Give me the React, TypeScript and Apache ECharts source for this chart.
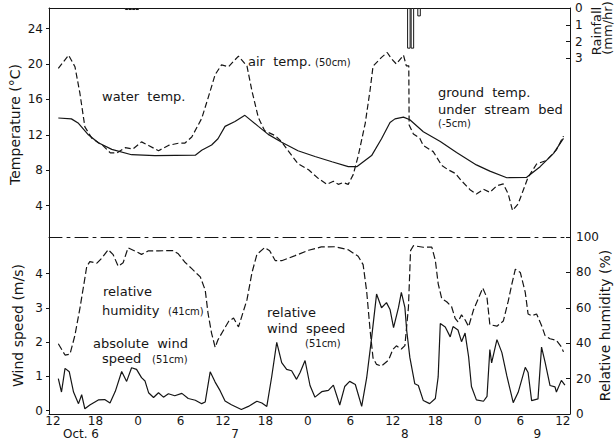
import React, { useEffect, useRef } from "react";
import * as echarts from "echarts";

// hours counted from Oct. 6, 12:00
const waterHours = [0.75, 2.6, 3.6, 5.0, 6.4, 8.3, 11.1, 14.4, 20.1, 21.0, 22.4, 23.3, 24.3, 25.7, 27.1, 29.0, 30.4, 32.3, 34.6, 37.0, 39.4, 41.7, 42.9, 45.0, 46.4, 47.6, 48.3, 49.5, 50.4, 52.3, 54.7, 57.0, 59.8, 61.7, 64.1, 66.9, 68.8, 70.7, 72.1];
const waterTemp = [13.9, 13.8, 13.3, 12.0, 11.1, 10.35, 9.75, 9.65, 9.7, 10.25, 10.85, 11.55, 12.95, 13.5, 14.2, 12.95, 12.05, 11.15, 10.2, 9.55, 8.95, 8.4, 8.4, 9.65, 11.55, 13.4, 13.8, 14.0, 13.7, 12.35, 11.25, 10.0, 8.6, 7.9, 7.15, 7.2, 8.4, 9.9, 11.6];

const airHours = [0.75, 2.2, 3.1, 3.8, 4.5, 5.5, 7.1, 8.1, 9.0, 10.2, 11.3, 12.5, 13.5, 14.9, 16.3, 17.7, 18.6, 19.6, 21.0, 21.9, 22.9, 23.8, 24.8, 25.5, 26.2, 27.4, 28.1, 29.0, 29.9, 31.4, 32.3, 33.2, 34.6, 36.1, 37.5, 38.7, 39.6, 40.3, 41.0, 41.7, 42.4, 43.1, 44.1, 44.8, 45.2, 46.4, 47.2, 47.8, 48.5, 49.5, 49.9, 50.25, 50.3, 50.9, 51.8, 52.3, 53.7, 54.9, 55.8, 56.8, 57.7, 58.9, 59.8, 60.8, 61.7, 62.7, 63.6, 64.3, 64.9, 65.7, 66.4, 67.1, 68.3, 69.7, 71.1, 72.1];
const airTemp = [19.5, 21.0, 19.7, 16.7, 12.9, 11.6, 10.75, 9.95, 9.95, 10.55, 10.4, 11.2, 10.8, 10.2, 10.8, 11.05, 11.05, 11.75, 13.85, 16.15, 18.8, 19.9, 19.7, 20.3, 20.9, 19.75, 16.95, 13.95, 12.45, 11.9, 11.2, 10.2, 8.75, 8.05, 7.05, 6.4, 6.75, 6.4, 6.6, 6.4, 7.5, 9.6, 13.3, 17.15, 19.75, 20.75, 21.3, 20.6, 20.0, 21.0, 19.8, 19.8, 13.1, 12.1, 11.6, 10.8, 10.1, 8.55, 8.05, 7.65, 6.8, 5.8, 5.3, 5.85, 5.5, 6.25, 6.45, 5.3, 3.45, 4.2, 5.7, 7.2, 8.7, 9.1, 10.3, 11.85];

const rainHours = [10.4, 10.9, 11.4, 11.9, 50.26, 50.76, 51.7];
const rainfall = [0.12, 0.12, 0.12, 0.12, 2.42, 2.42, 0.5];

const windHours = [0.75, 1.2, 1.7, 2.3, 2.9, 3.6, 4.05, 4.5, 5.2, 6.4, 7.3, 8.05, 8.8, 9.7, 10.4, 11.1, 11.8, 12.5, 13.0, 13.5, 14.2, 14.9, 15.6, 16.3, 17.2, 18.2, 19.1, 20.1, 21.0, 21.5, 22.2, 22.9, 23.6, 24.3, 25.2, 26.6, 27.6, 28.8, 29.5, 30.2, 30.9, 31.6, 32.3, 33.0, 33.7, 34.4, 34.9, 35.6, 36.3, 37.0, 37.95, 38.9, 39.6, 40.5, 41.2, 41.9, 42.7, 43.6, 44.3, 45.0, 45.7, 46.4, 47.1, 47.6, 48.1, 48.8, 49.2, 49.7, 49.96, 50.4, 51.1, 51.6, 52.3, 53.2, 54.0, 54.4, 54.7, 55.4, 56.1, 56.5, 57.2, 57.7, 58.2, 58.7, 59.1, 59.8, 60.8, 61.3, 61.7, 61.95, 62.7, 63.4, 64.1, 65.0, 65.7, 66.7, 67.1, 67.6, 68.5, 69.0, 69.5, 70.2, 70.9, 71.1, 71.8, 72.3];
const windSpeed = [0.93, 0.54, 1.23, 1.13, 0.54, 0.2, 0.46, 0.05, 0.16, 0.31, 0.32, 0.22, 0.56, 1.14, 0.85, 1.25, 1.2, 0.96, 0.86, 0.52, 0.38, 0.52, 0.39, 0.49, 0.43, 0.5, 0.35, 0.3, 0.2, 0.25, 1.13, 0.83, 0.58, 0.28, 0.17, 0.03, 0.12, 0.27, 0.22, 0.12, 1.0, 1.99, 1.4, 1.2, 1.16, 0.91, 1.11, 1.46, 0.73, 0.39, 0.55, 0.59, 0.74, 0.16, 0.7, 0.85, 0.76, 0.12, 0.95, 2.12, 3.4, 3.0, 3.15, 2.95, 2.42, 3.01, 3.45, 3.01, 2.33, 1.55, 0.78, 0.73, 0.29, 0.2, 0.35, 0.98, 2.54, 2.44, 2.15, 2.45, 2.35, 2.01, 2.26, 1.57, 0.7, 0.31, 0.27, 0.41, 1.78, 1.39, 2.07, 1.69, 1.01, 0.23, 0.53, 1.26, 1.11, 0.29, 0.34, 1.85, 1.41, 0.73, 0.69, 0.54, 0.88, 0.74];

const humidHours = [0.75, 1.7, 2.4, 3.1, 3.8, 4.5, 4.76, 5.2, 6.2, 6.9, 7.8, 8.5, 9.2, 9.9, 10.6, 11.6, 12.5, 13.5, 14.9, 17.0, 17.7, 18.6, 19.6, 20.3, 20.8, 21.5, 21.9, 22.4, 22.9, 23.3, 24.1, 24.8, 25.5, 26.2, 27.4, 28.1, 28.8, 29.9, 30.6, 31.4, 32.3, 34.2, 36.1, 37.9, 39.8, 41.7, 43.1, 43.8, 44.3, 44.8, 45.2, 45.7, 46.4, 47.4, 48.0, 48.5, 49.2, 49.7, 50.2, 50.5, 50.9, 52.3, 53.5, 54.0, 54.4, 54.9, 55.6, 56.3, 56.8, 57.2, 57.7, 58.2, 58.7, 59.4, 60.1, 60.7, 61.3, 61.7, 62.7, 63.6, 64.3, 64.8, 65.3, 66.0, 66.7, 67.1, 67.6, 68.3, 69.0, 69.5, 70.2, 71.1, 71.8, 72.1];
const humidity = [39.7, 33.3, 33.8, 44.5, 59.7, 76.7, 83.2, 86.1, 85.2, 88.1, 92.8, 90.0, 83.5, 85.4, 93.9, 92.0, 90.2, 92.2, 92.2, 92.3, 90.5, 85.9, 82.1, 79.4, 77.5, 70, 56.8, 45.6, 37.7, 41.9, 47.5, 52.3, 54.2, 49.2, 64.6, 79.8, 90.2, 94.0, 92.2, 86.6, 86.6, 89.5, 92.5, 94.4, 94.5, 92.8, 89.1, 84.4, 69.4, 46.8, 31.7, 28.0, 27.1, 30.5, 36.5, 38.5, 36.7, 38.6, 60.2, 92.3, 95.1, 94.2, 94.3, 86.8, 73.7, 65.2, 63.4, 60.6, 54.0, 52.1, 56, 53.2, 49.4, 58.9, 65.5, 71.2, 65.6, 50.5, 49.6, 52.5, 63.8, 73.3, 81.8, 80, 68.7, 56.5, 55.5, 56.5, 50, 44.3, 42.5, 41.6, 37.9, 35.1];

const hourTicks = [0, 6, 12, 18, 24, 30, 36, 42, 48, 54, 60, 66, 72];
const dateTicks = [3.95, 25.7, 49.7, 68.4];
const dateLabels = ["Oct. 6", "7", "8", "9"];
const tempTicks = [4, 8, 12, 16, 20, 24];
const rainTicks = [0, 1, 2, 3];
const windTicks = [0, 1, 2, 3, 4];
const humidTicks = [0, 20, 40, 60, 80, 100];

const zip = (xs: number[], ys: number[]) => xs.map((x, i) => [x, ys[i]]);

const INK = "#151515";
const FONT = "DejaVu Sans";
const X_MIN = -0.565;
const X_MAX = 73.02;

const baseX = {
  type: "value",
  min: X_MIN,
  max: X_MAX,
  splitLine: { show: false },
  axisTick: { show: false },
  axisLabel: { show: false },
  axisLine: { show: true, onZero: false, lineStyle: { color: INK, width: 1 } },
};

const label = (x: number, y: number, text: string, size = 13) => ({
  type: "text",
  x,
  y,
  silent: true,
  style: {
    text,
    fill: INK,
    font: `${size}px "${FONT}"`,
    align: "left",
    verticalAlign: "middle",
    textAlign: "left",
    textVerticalAlign: "middle",
  },
});

const rotated = (x: number, y: number, text: string, size = 13) => ({
  type: "text",
  x,
  y,
  rotation: Math.PI / 2,
  silent: true,
  style: {
    text,
    fill: INK,
    font: `${size}px "${FONT}"`,
    align: "center",
    verticalAlign: "middle",
    textAlign: "center",
    textVerticalAlign: "middle",
  },
});

const option: any = {
  animation: false,
  backgroundColor: "#fff",
  textStyle: { fontFamily: FONT, color: INK },
  grid: [
    { left: 49, right: 46, top: 8, height: 233, outerBoundsMode: "none" },
    { left: 49, right: 46, top: 237, height: 177, outerBoundsMode: "none" },
  ],
  xAxis: [
    { ...baseX, gridIndex: 0, position: "top" },
    {
      ...baseX,
      gridIndex: 1,
      position: "bottom",
      axisLabel: {
        show: true,
        customValues: hourTicks,
        margin: 1,
        fontSize: 12,
        fontFamily: FONT,
        color: INK,
        formatter: (v: number) => String((12 + Math.round(v)) % 24),
      },
    },
    {
      ...baseX,
      gridIndex: 1,
      position: "top",
      axisLine: { show: true, onZero: false, lineStyle: { color: INK, width: 1, type: [13, 5, 3, 5] } },
    },
    {
      ...baseX,
      gridIndex: 1,
      position: "bottom",
      offset: 13,
      axisLine: { show: false, onZero: false },
      axisLabel: {
        show: true,
        customValues: dateTicks,
        margin: 1,
        fontSize: 12,
        fontFamily: FONT,
        color: INK,
        formatter: (v: number) => {
          let best = 0;
          dateTicks.forEach((d, i) => {
            if (Math.abs(d - v) < Math.abs(dateTicks[best] - v)) best = i;
          });
          return dateLabels[best];
        },
      },
    },
  ],
  yAxis: [
    {
      type: "value",
      gridIndex: 0,
      position: "left",
      min: 0,
      max: 26.33,
      splitLine: { show: false },
      axisLine: { show: true, onZero: false, lineStyle: { color: INK } },
      axisTick: { show: true, customValues: tempTicks, length: 3, lineStyle: { color: INK } },
      axisLabel: { customValues: tempTicks, fontSize: 12, fontFamily: FONT, color: INK, margin: 6 },
      name: "Temperature (°C)",
      nameLocation: "middle",
      nameGap: 27,
      nameMoveOverlap: false,
      nameTextStyle: { fontSize: 14, fontFamily: FONT, color: INK },
    },
    {
      type: "value",
      gridIndex: 0,
      position: "right",
      inverse: true,
      min: 0,
      max: 13.87,
      splitLine: { show: false },
      axisLine: { show: true, onZero: false, lineStyle: { color: INK } },
      axisTick: { show: true, inside: true, customValues: rainTicks, length: 4, lineStyle: { color: INK } },
      axisLabel: { customValues: rainTicks, fontSize: 12, fontFamily: FONT, color: INK, margin: 5 },
    },
    {
      type: "value",
      gridIndex: 1,
      position: "left",
      min: -0.102,
      max: 5.066,
      splitLine: { show: false },
      axisLine: { show: true, onZero: false, lineStyle: { color: INK } },
      axisTick: { show: true, customValues: windTicks, length: 3, lineStyle: { color: INK } },
      axisLabel: { customValues: windTicks, fontSize: 12, fontFamily: FONT, color: INK, margin: 6 },
      name: "Wind speed (m/s)",
      nameLocation: "middle",
      nameGap: 24,
      nameMoveOverlap: false,
      nameTextStyle: { fontSize: 14, fontFamily: FONT, color: INK },
    },
    {
      type: "value",
      gridIndex: 1,
      position: "right",
      min: 0,
      max: 100,
      splitLine: { show: false },
      axisLine: { show: true, onZero: false, lineStyle: { color: INK } },
      axisTick: { show: true, inside: true, customValues: humidTicks, length: 4, lineStyle: { color: INK } },
      axisLabel: { customValues: humidTicks, fontSize: 12, fontFamily: FONT, color: INK, margin: 6 },
      name: "Relative humidity (%)",
      nameLocation: "middle",
      nameGap: 28,
      nameMoveOverlap: false,
      nameTextStyle: { fontSize: 14, fontFamily: FONT, color: INK },
    },
  ],
  graphic: [
    rotated(596, 31, "Rainfall", 13),
    rotated(607, 28, "(mm/hr)", 13),
    label(102, 96, "water  temp."),
    label(248, 61, "air  temp."),
    label(315, 62, "(50cm)", 10),
    label(438, 92, "ground  temp."),
    label(438, 109, "under  stream  bed"),
    label(438, 123, "(-5cm)", 10),
    label(103, 291, "relative"),
    label(102, 310, "humidity"),
    label(168, 311, "(41cm)", 10),
    label(93, 343, "absolute  wind"),
    label(102, 358, "speed"),
    label(152, 359, "(51cm)", 10),
    label(267, 312, "relative"),
    label(267, 328, "wind  speed"),
    label(305, 343, "(51cm)", 10),
  ],
  series: [
    {
      type: "line",
      name: "water temp.",
      xAxisIndex: 0,
      yAxisIndex: 0,
      data: zip(waterHours, waterTemp),
      showSymbol: false,
      lineStyle: { color: INK, width: 1.2 },
    },
    {
      type: "line",
      name: "air temp. (50cm)",
      xAxisIndex: 0,
      yAxisIndex: 0,
      data: zip(airHours, airTemp),
      showSymbol: false,
      lineStyle: { color: INK, width: 1.2, type: [6, 3] },
    },
    {
      type: "bar",
      name: "Rainfall",
      xAxisIndex: 0,
      yAxisIndex: 1,
      data: zip(rainHours, rainfall),
      barWidth: 3.5,
      itemStyle: { color: "#fff", borderColor: INK, borderWidth: 1 },
    },
    {
      type: "line",
      name: "wind speed (51cm)",
      xAxisIndex: 1,
      yAxisIndex: 2,
      data: zip(windHours, windSpeed),
      showSymbol: false,
      lineStyle: { color: INK, width: 1.2 },
    },
    {
      type: "line",
      name: "relative humidity (41cm)",
      xAxisIndex: 1,
      yAxisIndex: 3,
      data: zip(humidHours, humidity),
      showSymbol: false,
      lineStyle: { color: INK, width: 1.2, type: [7, 3] },
    },
  ],
};

export default function App() {
  const ref = useRef<HTMLDivElement>(null);
  useEffect(() => {
    const chart = echarts.init(ref.current as HTMLDivElement, null, { renderer: "svg" });
    chart.setOption(option);
    return () => chart.dispose();
  }, []);
  return (
    <div
      ref={ref}
      style={{ position: "absolute", left: 0, top: 0, width: 616, height: 441, background: "#fff" }}
    />
  );
}
